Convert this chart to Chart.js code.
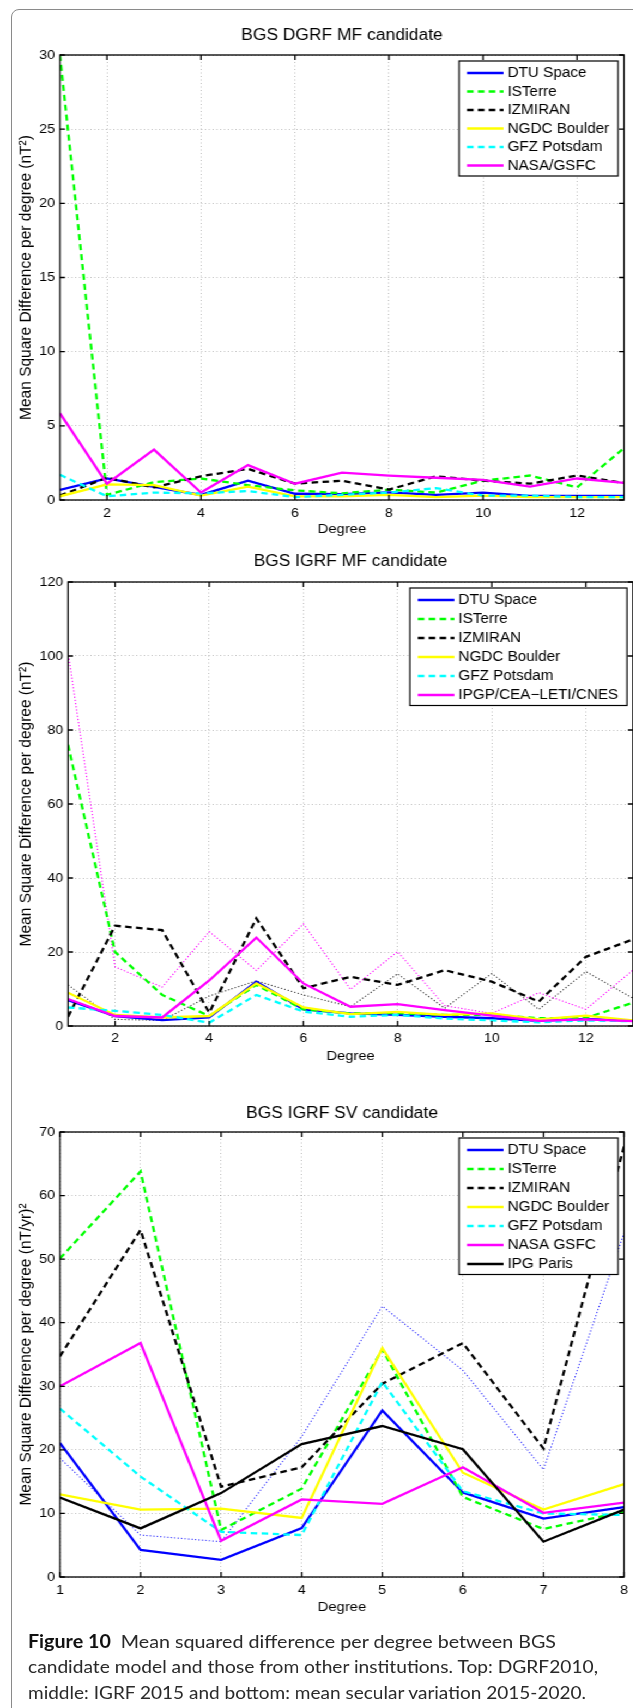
<!DOCTYPE html>
<html>
<head>
<meta charset="utf-8">
<script src="https://cdn.jsdelivr.net/npm/chart.js@4.4.0/dist/chart.umd.min.js"></script>
<style>
  html, body { margin: 0; padding: 0; background: #fff; }
  #page { position: relative; width: 633px; height: 1708px; overflow: hidden; background: #fff; }
  #frame { position: absolute; left: 11px; top: 9px; width: 700px; height: 1800px;
           border: 1.5px solid #8a8a8a; border-radius: 8px; }
  /* the three panels are drawn a little narrow and stretched sideways */
  #plots { position: absolute; left: 0; top: 0; width: 581px; height: 1708px;
           transform: scaleX(1.09); transform-origin: 0 0; }
  #plots canvas { position: absolute; left: 0; }
  .cap { position: absolute; left: 28px; white-space: nowrap; font-family: Lato, 'Open Sans', sans-serif;
         font-size: 18px; line-height: 26px; color: #2a2a2a; transform-origin: 0 0; display: inline-block; }
  .cap b { color: #111; }
</style>
</head>
<body>
<div id="page">
  <div id="frame"></div>
  <div id="plots">
    <canvas id="dgrf" width="581" height="526" style="top:14px"></canvas>
    <canvas id="igrf" width="581" height="521" style="top:545px"></canvas>
    <canvas id="sv" width="581" height="522" style="top:1095px"></canvas>
  </div>
  <div class="cap" data-w="528" style="top:1628px"><b>Figure 10</b>&nbsp; Mean squared difference per degree between BGS</div>
  <div class="cap" data-w="570" style="top:1653px">candidate model and those from other institutions. Top: DGRF2010,</div>
  <div class="cap" data-w="558" style="top:1679px">middle: IGRF 2015 and bottom: mean secular variation 2015-2020.</div>
</div>

<script>
const FONT = "'Liberation Sans', Arial, Helvetica, sans-serif";
Chart.defaults.font.family = FONT;
Chart.defaults.color = '#000';

// spherical harmonic degrees and axis ticks
const degreesMF = [1, 2, 3, 4, 5, 6, 7, 8, 9, 10, 11, 12, 13];
const degreesSV = [1, 2, 3, 4, 5, 6, 7, 8];
const xTicksMF = [2, 4, 6, 8, 10, 12];
const xTicksSV = [1, 2, 3, 4, 5, 6, 7, 8];
const yTicksDGRF = [0, 5, 10, 15, 20, 25, 30];
const yTicksIGRF = [0, 20, 40, 60, 80, 100, 120];
const yTicksSV = [0, 10, 20, 30, 40, 50, 60, 70];

// DGRF MF candidate, nT^2
const dgrfDtu     = [0.68, 1.46, 0.88, 0.34, 1.3, 0.42, 0.4, 0.52, 0.34, 0.5, 0.27, 0.27, 0.27];
const dgrfIsterre = [30, 0.35, 1.2, 1.45, 1.0, 0.65, 0.45, 0.7, 0.5, 1.3, 1.65, 0.85, 3.5];
const dgrfIzmiran = [0.3, 1.5, 0.85, 1.6, 2.1, 1.1, 1.3, 0.7, 1.6, 1.3, 1.1, 1.65, 1.15];
const dgrfNgdc    = [0.25, 1.05, 1.0, 0.3, 0.9, 0.25, 0.25, 0.35, 0.2, 0.3, 0.2, 0.2, 0.2];
const dgrfGfz     = [1.7, 0.25, 0.5, 0.45, 0.6, 0.2, 0.35, 0.5, 0.8, 0.3, 0.3, 0.2, 0.2];
const dgrfNasa    = [5.85, 1.1, 3.4, 0.5, 2.35, 1.1, 1.85, 1.65, 1.5, 1.35, 0.9, 1.45, 1.15];

// IGRF MF candidate, nT^2
const igrfDtu     = [7.0, 2.7, 1.6, 2.3, 12.0, 4.5, 3.4, 3.0, 2.5, 2.1, 1.4, 1.9, 1.4];
const igrfIsterre = [76, 20, 8.4, 2.7, 11.1, 4.5, 3.4, 3.5, 3.0, 3.0, 2.1, 2.2, 6.3];
const igrfIzmiran = [2.5, 27.1, 25.9, 3.6, 29.1, 10.2, 13.3, 11.1, 15.1, 12.0, 6.6, 18.7, 23.4];
const igrfNgdc    = [9.0, 3.0, 2.3, 2.7, 11.5, 5.0, 3.2, 3.8, 3.0, 3.4, 1.8, 2.8, 1.5];
const igrfGfz     = [5.0, 4.1, 3.0, 0.9, 8.4, 3.9, 2.5, 3.0, 2.0, 1.5, 1.0, 1.5, 1.3];
const igrfIpgp    = [7.3, 2.7, 2.3, 12.3, 23.9, 11.5, 5.2, 5.9, 4.3, 2.8, 1.4, 1.8, 1.3];
const igrfExtraMagenta = [101, 16.0, 10.5, 25.5, 15.0, 27.6, 9.9, 20.1, 5.5, 3.4, 9.0, 4.5, 15.1];
const igrfExtraBlack   = [11.1, 1.8, 1.5, 8.1, 12.2, 8.4, 5.2, 14.1, 4.8, 14.2, 4.5, 14.7, 7.5];

// IGRF SV candidate, (nT/yr)^2
const svDtu     = [21.1, 4.25, 2.7, 7.7, 26.2, 13.3, 9.2, 11.0];
const svIsterre = [50.1, 63.8, 7.4, 13.9, 35.8, 12.6, 7.55, 10.3];
const svIzmiran = [34.7, 54.6, 14.2, 17.25, 30.4, 36.8, 20.2, 67.7];
const svNgdc    = [13.0, 10.6, 10.75, 9.3, 36.0, 16.4, 10.6, 14.6];
const svGfz     = [26.5, 15.8, 7.1, 6.6, 30.7, 13.5, 10.0, 9.75];
const svNasa    = [30.0, 36.8, 5.7, 12.2, 11.5, 17.25, 10.1, 11.7];
const svIpg     = [12.5, 7.65, 13.2, 20.9, 23.75, 20.1, 5.55, 10.6];
const svExtraBlue = [18.7, 6.6, 5.55, 22.1, 42.6, 32.5, 16.9, 54.1];

const DASH = [6, 4];
const DOTS = [1.2, 2];
const GRID = 'rgba(0,0,0,0.26)';

function series(label, degrees, values, color, dash) {
  return {
    label: label,
    data: degrees.map((d, i) => ({ x: d, y: values[i] })),
    borderColor: color,
    borderWidth: 2.3,
    borderDash: dash || [],
    pointRadius: 0,
    tension: 0,
    fill: false
  };
}

function dotted(degrees, values, color) {
  const s = series('', degrees, values, color, DOTS);
  s.borderWidth = 1.1;
  s.inLegend = false;
  return s;
}

// Box around the axes with inward tick marks on all four sides
const axesBox = {
  id: 'axesBox',
  afterDatasetsDraw(chart) {
    const { ctx, chartArea: a, scales: { x, y } } = chart;
    ctx.save();
    ctx.strokeStyle = '#000';
    ctx.lineWidth = 1.3;
    ctx.setLineDash([]);
    ctx.strokeRect(a.left, a.top, a.right - a.left, a.bottom - a.top);
    ctx.beginPath();
    x.ticks.forEach(t => {
      const px = x.getPixelForValue(t.value);
      ctx.moveTo(px, a.bottom); ctx.lineTo(px, a.bottom - 5);
      ctx.moveTo(px, a.top); ctx.lineTo(px, a.top + 5);
    });
    y.ticks.forEach(t => {
      const py = y.getPixelForValue(t.value);
      ctx.moveTo(a.left, py); ctx.lineTo(a.left + 4.6, py);
      ctx.moveTo(a.right, py); ctx.lineTo(a.right - 4.6, py);
    });
    ctx.stroke();
    ctx.restore();
  }
};

// Legend in a framed white box at the top right of the axes
const boxLegend = {
  id: 'boxLegend',
  afterDraw(chart, args, opts) {
    const { ctx, chartArea } = chart;
    const items = chart.data.datasets.filter(d => d.inLegend !== false);
    ctx.save();
    ctx.font = opts.fontSize + 'px ' + FONT;
    const textW = Math.max(...items.map(d => ctx.measureText(d.label).width));
    const w = opts.padLeft + opts.lineLength + opts.gap + textW + opts.padRight;
    const h = opts.padTop + opts.rowHeight * (items.length - 1) + opts.padBottom;
    const x0 = chartArea.right - opts.right - w;
    const y0 = chartArea.top + opts.top;
    ctx.fillStyle = '#fff';
    ctx.fillRect(x0, y0, w, h);
    ctx.strokeStyle = '#000';
    ctx.lineWidth = 1.2;
    ctx.setLineDash([]);
    ctx.strokeRect(x0, y0, w, h);
    items.forEach((d, i) => {
      const cy = y0 + opts.padTop + i * opts.rowHeight;
      ctx.strokeStyle = d.borderColor;
      ctx.lineWidth = d.borderWidth;
      ctx.setLineDash(d.borderDash);
      ctx.beginPath();
      ctx.moveTo(x0 + opts.padLeft, cy);
      ctx.lineTo(x0 + opts.padLeft + opts.lineLength, cy);
      ctx.stroke();
      ctx.fillStyle = '#000';
      ctx.textAlign = 'left';
      ctx.textBaseline = 'middle';
      ctx.fillText(d.label, x0 + opts.padLeft + opts.lineLength + opts.gap, cy + 0.5);
    });
    ctx.restore();
  }
};

function drawPanel(id, p) {
  // later institutions are drawn on top, the dotted extras underneath
  p.datasets.forEach((d, i) => { d.order = p.datasets.length - i; });
  new Chart(document.getElementById(id), {
    type: 'line',
    data: { datasets: p.datasets },
    options: {
      responsive: false,
      animation: false,
      devicePixelRatio: 1,
      events: [],
      layout: { padding: { left: 0, top: 0, bottom: 0, right: p.padRight } },
      scales: {
        x: {
          type: 'linear',
          min: p.xMin,
          max: p.xMax,
          afterBuildTicks: s => { s.ticks = p.xTicks.map(v => ({ value: v })); },
          afterFit: s => { s.height = 40; s.paddingLeft = 0; s.paddingRight = 0; },
          grid: { color: GRID, lineWidth: 1, drawTicks: false },
          border: { display: false, dash: [1, 2.5] },
          ticks: { padding: p.xTickPad, font: { size: 13 }, color: '#000', maxRotation: 0, autoSkip: false },
          title: { display: true, text: 'Degree', font: { size: 13.5 }, color: '#000',
                   padding: { top: 0, bottom: p.xTitlePad } }
        },
        y: {
          type: 'linear',
          min: p.yTicks[0],
          max: p.yTicks[p.yTicks.length - 1],
          afterBuildTicks: s => { s.ticks = p.yTicks.map(v => ({ value: v })); },
          afterFit: s => { s.width = p.yAxisWidth; s.paddingTop = 0; s.paddingBottom = 0; },
          grid: { color: GRID, lineWidth: 1, drawTicks: false },
          border: { display: false, dash: [1, 2.5] },
          ticks: { padding: 4.5, font: { size: 13 }, color: '#000' },
          title: { display: true, text: p.yTitle, font: { size: 15.5 }, color: '#000',
                   padding: { top: 14.9, bottom: 0 } }
        }
      },
      plugins: {
        legend: { display: false },
        tooltip: { enabled: false },
        title: {
          display: true,
          text: p.title,
          fullSize: false,
          color: '#000',
          font: { size: 16, weight: 'normal' },
          padding: p.titlePad
        },
        boxLegend: {
          right: 5.5, top: 6, padLeft: 7.3, lineLength: 33.5, gap: 3.7, padRight: 8,
          padTop: 12, padBottom: 10.5, rowHeight: p.rowHeight, fontSize: 14
        }
      }
    },
    plugins: [axesBox, boxLegend]
  });
}

drawPanel('dgrf', {
  title: 'BGS DGRF MF candidate',
  yTitle: 'Mean Square Difference per degree (nT²)',
  xMin: 1, xMax: 13, xTicks: xTicksMF, yTicks: yTicksDGRF,
  yAxisWidth: 55, padRight: 8.5, xTickPad: 5.2, xTitlePad: 2.9,
  titlePad: { top: 12.4, bottom: 9.4 }, rowHeight: 18.5,
  datasets: [
    series('DTU Space', degreesMF, dgrfDtu, '#0000ff'),
    series('ISTerre', degreesMF, dgrfIsterre, '#00ff00', DASH),
    series('IZMIRAN', degreesMF, dgrfIzmiran, '#000000', DASH),
    series('NGDC Boulder', degreesMF, dgrfNgdc, '#ffff00'),
    series('GFZ Potsdam', degreesMF, dgrfGfz, '#00ffff', DASH),
    series('NASA/GSFC', degreesMF, dgrfNasa, '#ff00ff')
  ]
});

drawPanel('igrf', {
  title: 'BGS IGRF MF candidate',
  yTitle: 'Mean Square Difference per degree (nT²)',
  xMin: 1, xMax: 13, xTicks: xTicksMF, yTicks: yTicksIGRF,
  yAxisWidth: 62.4, padRight: 0.3, xTickPad: 4.9, xTitlePad: 1.9,
  titlePad: { top: 6.9, bottom: 10.9 }, rowHeight: 19,
  datasets: [
    dotted(degreesMF, igrfExtraBlack, '#333333'),
    dotted(degreesMF, igrfExtraMagenta, '#ff00ff'),
    series('DTU Space', degreesMF, igrfDtu, '#0000ff'),
    series('ISTerre', degreesMF, igrfIsterre, '#00ff00', DASH),
    series('IZMIRAN', degreesMF, igrfIzmiran, '#000000', DASH),
    series('NGDC Boulder', degreesMF, igrfNgdc, '#ffff00'),
    series('GFZ Potsdam', degreesMF, igrfGfz, '#00ffff', DASH),
    series('IPGP/CEA\u2212LETI/CNES', degreesMF, igrfIpgp, '#ff00ff')
  ]
});

drawPanel('sv', {
  title: 'BGS IGRF SV candidate',
  yTitle: 'Mean Square Difference per degree (nT/yr)²',
  xMin: 1, xMax: 8, xTicks: xTicksSV, yTicks: yTicksSV,
  yAxisWidth: 55, padRight: 8.5, xTickPad: 5.2, xTitlePad: 1.9,
  titlePad: { top: 8.9, bottom: 8.9 }, rowHeight: 19,
  datasets: [
    dotted(degreesSV, svExtraBlue, '#3333ff'),
    series('DTU Space', degreesSV, svDtu, '#0000ff'),
    series('ISTerre', degreesSV, svIsterre, '#00ff00', DASH),
    series('IZMIRAN', degreesSV, svIzmiran, '#000000', DASH),
    series('NGDC Boulder', degreesSV, svNgdc, '#ffff00'),
    series('GFZ Potsdam', degreesSV, svGfz, '#00ffff', DASH),
    series('NASA GSFC', degreesSV, svNasa, '#ff00ff'),
    series('IPG Paris', degreesSV, svIpg, '#000000')
  ]
});

// caption lines are set to the column width
document.querySelectorAll('.cap').forEach(el => {
  const natural = el.getBoundingClientRect().width;
  el.style.transform = 'scaleX(' + (el.dataset.w / natural) + ')';
});
</script>
</body>
</html>
